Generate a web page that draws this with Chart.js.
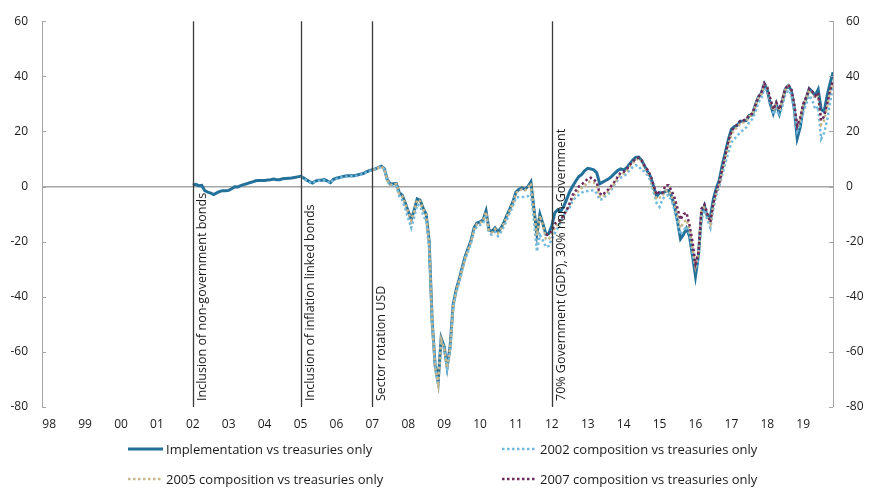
<!DOCTYPE html>
<html>
<head>
<meta charset="utf-8">
<script src="https://cdn.jsdelivr.net/npm/chart.js@4.4.1/dist/chart.umd.min.js"></script>
<style>
  body { margin: 0; background: #fff; }
  #wrap { position: relative; width: 871px; height: 488px; font-family: "Open Sans", sans-serif; }
  #legend .item { position: absolute; height: 16px; display: flex; align-items: center; font-size: 13px; color: #1a1a1a; white-space: nowrap; }
  #legend svg { margin-right: 3px; }
</style>
</head>
<body>
<div id="wrap">
  <canvas id="perf-chart" width="871" height="488"></canvas>
  <div id="legend"></div>
</div>
<script>
/**
 * Relative performance vs treasuries only, monthly, with composition changes
 */

// x axis ticks (one per year)
const xTickYears = [1998, 1999, 2000, 2001, 2002, 2003, 2004, 2005, 2006, 2007, 2008,
  2009, 2010, 2011, 2012, 2013, 2014, 2015, 2016, 2017, 2018, 2019];
const xTickLabels = ['98', '99', '00', '01', '02', '03', '04', '05', '06', '07', '08',
  '09', '10', '11', '12', '13', '14', '15', '16', '17', '18', '19'];

// y axis range
const yMin = -80;
const yMax = 60;
const yStep = 20;

// composition changes
const changeYears = [2002, 2005, 2007, 2012];
const changeLabels = [
  'Inclusion of non-government bonds',
  'Inclusion of inflation linked bonds',
  'Sector rotation USD',
  '70% Government (GDP), 30% non-Government'
];

// series names
const seriesNames = [
  'Implementation vs treasuries only',
  '2002 composition vs treasuries only',
  '2005 composition vs treasuries only',
  '2007 composition vs treasuries only'
];

// first month of each series [year, month]
const implementationStart = [2002, 1];
const comp2002Start = [2005, 1];
const comp2005Start = [2007, 1];
const comp2007Start = [2011, 11];

// monthly values
const implementation = [
  0.5, 0.8, 0.3, 0.4, -1.5, -2.0, -2.4, -2.9, -2.3, -1.8, -1.5, -1.5,
  -1.4, -0.8, -0.1, -0.2, 0.3, 0.7, 1.0, 1.4, 1.7, 2.1, 2.2, 2.2,
  2.2, 2.4, 2.5, 2.7, 2.5, 2.5, 2.8, 2.9, 3.0, 3.1, 3.3, 3.5,
  3.7, 3.2, 2.4, 1.8, 1.3, 2.0, 2.3, 2.3, 2.5, 2.0, 1.4, 2.6,
  3.0, 3.3, 3.6, 3.8, 3.9, 3.9, 3.9, 4.2, 4.5, 4.7, 5.3, 5.8,
  6.1, 6.4, 6.9, 7.4, 6.5, 2.5, 0.8, 1.0, 1.1, -2.2, -3.1, -6.0,
  -9.0, -12.0, -8.5, -4.5, -5.0, -8.0, -10.0, -20.0, -49.0, -65.0, -71.0, -55.0,
  -58.0, -65.5, -58.0, -43.0, -37.5, -33.8, -29.5, -25.5, -22.5, -19.5, -15.0, -13.2,
  -12.8, -12.1, -8.8, -15.8, -16.3, -15.0, -16.5, -15.0, -13.0, -10.4, -8.0, -5.5,
  -2.0, -1.0, -0.5, -1.0, 0.0, 1.7, -8.0, -17.2, -10.0, -13.5, -17.2, -17.0,
  -14.2, -9.5, -8.4, -9.0, -7.1, -4.5, -1.8, 0.2, 2.0, 3.6, 4.4, 5.8,
  6.6, 6.4, 6.1, 5.0, 1.0, 1.6, 2.2, 2.8, 3.7, 4.8, 5.8, 6.4,
  6.0, 6.8, 8.2, 9.5, 10.6, 10.7, 9.5, 7.4, 5.5, 3.5, 0.0, -3.6,
  -2.2, -2.4, -1.7, -1.4, -3.5, -7.2, -12.7, -19.0, -17.4, -15.2, -18.0, -25.0,
  -32.5, -25.0, -10.0, -7.0, -11.0, -11.0, -4.5, -0.5, 2.5, 8.0, 12.5, 17.0,
  20.8, 21.8, 22.2, 23.7, 23.8, 24.0, 25.8, 26.0, 29.5, 32.4, 33.8, 37.2,
  35.0, 30.0, 26.5, 30.0, 26.5, 31.0, 35.3, 36.6, 35.0, 28.5, 17.5, 21.5,
  29.0, 32.0, 35.5, 34.5, 33.0, 35.2, 28.0, 27.2, 33.0, 37.5, 41.5
];

const comp2002 = [
  3.7, 3.0, 2.2, 1.6, 1.1, 1.8, 2.1, 2.1, 2.3, 1.8, 1.2, 2.4,
  2.8, 3.1, 3.4, 3.6, 3.7, 3.7, 3.7, 4.0, 4.3, 4.5, 5.1, 5.6,
  5.9, 6.2, 6.7, 7.2, 6.2, 2.0, 0.3, 0.5, 0.3, -3.5, -5.0, -8.0,
  -11.5, -15.0, -11.0, -6.5, -7.0, -10.5, -12.5, -22.0, -50.0, -66.0, -72.0, -56.0,
  -59.0, -66.0, -60.0, -44.0, -38.5, -35.0, -30.5, -26.5, -23.5, -20.5, -16.0, -14.5,
  -14.0, -13.5, -10.0, -17.0, -17.5, -16.5, -18.0, -16.5, -14.5, -12.0, -9.5, -7.0,
  -4.0, -3.8, -3.8, -3.8, -3.5, -2.6, -12.0, -23.6, -17.6, -19.5, -22.0, -21.5,
  -19.0, -17.0, -15.0, -12.5, -10.5, -8.5, -7.5, -5.0, -4.0, -3.0, -2.2, -1.8,
  -1.6, -1.5, -1.3, -2.5, -4.9, -4.5, -3.2, -2.5, -1.0, 0.8, 2.3, 3.2,
  3.8, 4.5, 6.0, 7.0, 7.7, 7.5, 5.8, 5.5, 4.0, 2.0, -2.0, -6.0,
  -7.4, -4.5, -3.5, -3.0, -5.0, -8.5, -13.5, -17.5, -16.0, -14.5, -17.5, -24.0,
  -30.0, -26.0, -12.0, -8.5, -12.0, -15.0, -8.0, -3.0, 0.0, 4.5, 8.5, 12.5,
  16.0, 17.3, 18.5, 19.7, 20.5, 21.5, 23.4, 24.5, 27.0, 30.5, 32.0, 35.5,
  35.0, 31.0, 26.0, 28.5, 25.5, 29.0, 33.5, 35.0, 33.5, 27.5, 20.0, 22.5,
  27.0, 30.0, 33.0, 31.5, 28.0, 29.0, 17.3, 19.5, 24.0, 30.6, 37.0
];

const comp2005 = [
  6.0, 6.3, 6.8, 7.3, 6.4, 2.3, 0.6, 0.8, 0.9, -2.5, -3.4, -6.3,
  -9.3, -12.3, -8.8, -4.8, -5.3, -8.3, -10.3, -20.5, -49.5, -65.5, -71.5, -55.5,
  -58.5, -65.8, -58.5, -43.5, -38.0, -34.2, -30.0, -26.0, -23.0, -20.0, -15.5, -13.6,
  -13.2, -12.5, -9.2, -16.2, -16.7, -15.4, -16.9, -15.4, -13.4, -10.8, -8.4, -5.9,
  -2.4, -1.4, -1.0, -1.4, -0.5, 1.2, -8.5, -17.8, -10.5, -14.0, -19.0, -19.0,
  -17.5, -15.0, -13.5, -12.5, -10.5, -8.5, -6.5, -4.0, -2.5, -1.5, -0.5, 0.3,
  1.5, 1.8, 1.5, 0.2, -3.5, -3.8, -2.5, -1.8, -0.3, 1.2, 3.0, 4.3,
  4.8, 5.6, 7.2, 8.5, 9.6, 10.2, 9.0, 7.0, 5.5, 3.2, -0.8, -4.5,
  -4.0, -3.5, -1.5, -1.5, -3.0, -6.0, -10.5, -15.0, -13.0, -12.0, -15.5, -22.0,
  -29.0, -24.5, -9.0, -7.0, -10.5, -13.5, -6.5, -2.0, 1.0, 6.0, 10.5, 15.0,
  19.0, 20.5, 21.5, 23.0, 23.2, 23.8, 25.5, 26.0, 29.0, 32.0, 33.5, 37.0,
  35.8, 31.5, 27.5, 30.0, 27.5, 31.0, 35.0, 36.5, 35.0, 29.5, 21.5, 24.5,
  29.5, 32.0, 35.0, 34.0, 32.0, 33.0, 22.5, 24.0, 29.0, 34.5, 38.0
];

const comp2007 = [
  -17.5, -17.5,
  -16.0, -13.5, -12.5, -12.2, -10.0, -8.5, -6.0, -3.0, -1.5, 0.0, 0.8, 1.7,
  2.8, 3.2, 2.6, 1.5, -2.5, -3.1, -1.8, -1.0, 0.5, 1.8, 3.5, 5.0,
  5.3, 6.3, 7.8, 9.0, 10.0, 10.5, 9.5, 7.5, 6.0, 4.0, 0.5, -3.0,
  -1.8, -2.2, 0.5, 0.5, -1.5, -4.0, -8.0, -12.0, -10.0, -9.5, -14.0, -20.0,
  -28.0, -24.0, -8.0, -6.5, -10.0, -13.0, -6.0, -1.5, 1.5, 6.5, 11.5, 16.5,
  20.0, 21.5, 22.5, 24.0, 24.0, 24.5, 26.0, 26.5, 29.5, 32.5, 34.0, 37.5,
  36.0, 32.0, 28.0, 30.5, 28.0, 31.5, 35.5, 37.0, 35.5, 30.0, 22.0, 25.0,
  30.0, 32.5, 35.5, 34.5, 33.0, 34.0, 24.0, 25.5, 30.0, 35.0, 38.5
];

const colors = {
  implementation: '#23709a',
  comp2002: '#72b9dc',
  comp2005: '#c8b68c',
  comp2007: '#6b2a5c',
  axis: '#a6a6a6',
  marker: '#3a3a3a',
  text: '#1a1a1a'
};

const FONT = '"Open Sans", sans-serif';

// monthly values -> {x: decimal year, y}
function toPoints(start, values) {
  return values.map((v, i) => ({ x: start[0] + (start[1] - 1 + i) / 12, y: v }));
}

/**
 * Marker lines, rotated labels and inward axis ticks
 */
const overlayPlugin = {
  id: 'overlay',
  afterDatasetsDraw(chart) {
    const { ctx, chartArea, scales } = chart;
    const { x, y } = scales;
    ctx.save();

    // inward tick marks on both value axes
    ctx.strokeStyle = colors.axis;
    ctx.lineWidth = 1;
    for (let v = yMin; v <= yMax; v += yStep) {
      const py = Math.round(y.getPixelForValue(v)) + 0.5;
      ctx.beginPath();
      ctx.moveTo(chartArea.left, py);
      ctx.lineTo(chartArea.left + 4, py);
      ctx.moveTo(chartArea.right - 4, py);
      ctx.lineTo(chartArea.right, py);
      ctx.stroke();
    }

    // composition change markers
    ctx.strokeStyle = colors.marker;
    ctx.lineWidth = 1.3;
    ctx.fillStyle = colors.text;
    ctx.font = '12.5px ' + FONT;
    changeYears.forEach((yr, i) => {
      const px = Math.round(x.getPixelForValue(yr)) + 0.5;
      ctx.beginPath();
      ctx.moveTo(px, chartArea.top);
      ctx.lineTo(px, chartArea.bottom);
      ctx.stroke();

      ctx.save();
      ctx.translate(px + 3, chartArea.bottom - 6);
      ctx.rotate(-Math.PI / 2);
      ctx.textAlign = 'left';
      ctx.textBaseline = 'top';
      ctx.fillText(changeLabels[i], 0, 0);
      ctx.restore();
    });
    ctx.restore();
  }
};

const lineBase = {
  pointRadius: 0,
  pointHoverRadius: 0,
  tension: 0,
  fill: false
};

const datasets = [
  { ...lineBase, label: seriesNames[0], data: toPoints(implementationStart, implementation),
    borderColor: colors.implementation, borderWidth: 3, order: 4 },
  { ...lineBase, label: seriesNames[1], data: toPoints(comp2002Start, comp2002),
    borderColor: colors.comp2002, borderWidth: 2.5, borderDash: [2.5, 2.5], order: 3 },
  { ...lineBase, label: seriesNames[2], data: toPoints(comp2005Start, comp2005),
    borderColor: colors.comp2005, borderWidth: 2.5, borderDash: [2.5, 2.5], order: 2 },
  { ...lineBase, label: seriesNames[3], data: toPoints(comp2007Start, comp2007),
    borderColor: colors.comp2007, borderWidth: 2.5, borderDash: [2.5, 2.5], order: 1 }
];

const valueAxis = (position) => ({
  type: 'linear',
  position,
  min: yMin,
  max: yMax,
  border: { display: true, color: colors.axis, width: 1 },
  grid: {
    display: position === 'left',
    drawTicks: false,
    color: (c) => (c.tick && c.tick.value === 0 ? colors.axis : 'rgba(0,0,0,0)'),
    lineWidth: (c) => (c.tick && c.tick.value === 0 ? 1.5 : 0)
  },
  ticks: {
    stepSize: yStep,
    padding: position === 'left' ? 14 : 13,
    color: colors.text,
    font: { family: FONT, size: 12 }
  },
  afterFit(scale) {
    scale.width = position === 'left' ? 42 : 38;
  }
});

const chart = new Chart(document.getElementById('perf-chart'), {
  type: 'line',
  data: { datasets },
  plugins: [overlayPlugin],
  options: {
    responsive: false,
    animation: false,
    devicePixelRatio: 1,
    layout: { padding: { top: 16, right: 0, bottom: 0, left: 0 } },
    plugins: {
      legend: { display: false },
      tooltip: { enabled: false }
    },
    scales: {
      x: {
        type: 'linear',
        min: 1997.8,
        max: 2019.83,
        border: { display: false },
        grid: { display: false, drawTicks: false },
        afterBuildTicks(scale) {
          scale.ticks = xTickYears.map(v => ({ value: v }));
        },
        ticks: {
          autoSkip: false,
          maxRotation: 0,
          padding: 10,
          color: colors.text,
          font: { family: FONT, size: 12 },
          callback: (value) => xTickLabels[xTickYears.indexOf(value)]
        },
        afterFit(scale) {
          scale.height = 81;
        }
      },
      y: valueAxis('left'),
      y1: valueAxis('right')
    }
  }
});

// HTML legend, 2 x 2 grid
const legendPos = [
  { left: 128, top: 441 },
  { left: 502, top: 441 },
  { left: 128, top: 471 },
  { left: 502, top: 471 }
];
const legendEl = document.getElementById('legend');
chart.data.datasets.forEach((ds, i) => {
  const item = document.createElement('div');
  item.className = 'item';
  item.style.left = legendPos[i].left + 'px';
  item.style.top = legendPos[i].top + 'px';
  const dash = ds.borderDash ? 'stroke-dasharray="2.5 2.5"' : '';
  item.innerHTML =
    `<svg width="35" height="16"><line x1="0" y1="8" x2="35" y2="8" stroke="${ds.borderColor}" ` +
    `stroke-width="${ds.borderWidth}" ${dash}/></svg><span>${ds.label}</span>`;
  legendEl.appendChild(item);
});
</script>
</body>
</html>
